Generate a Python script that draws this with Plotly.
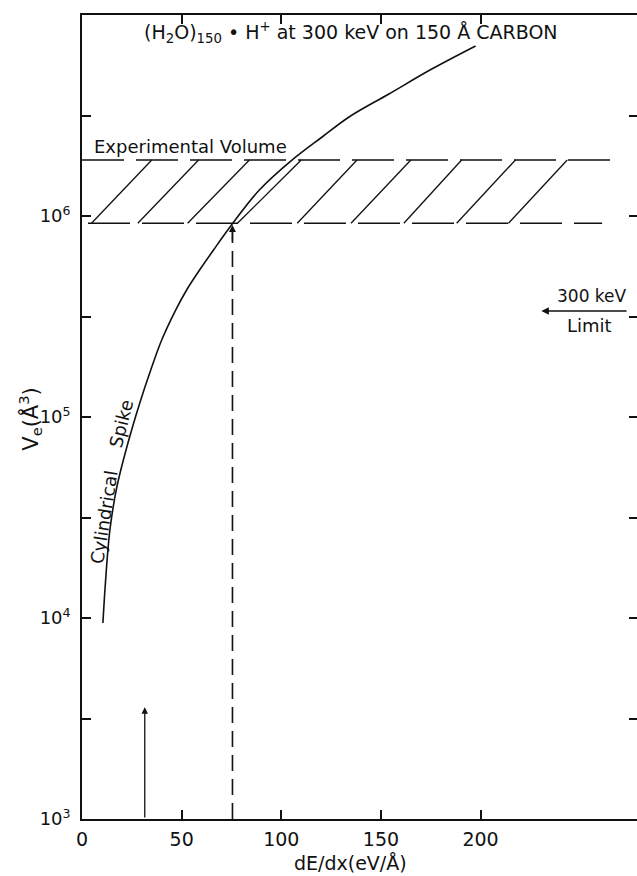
import plotly.graph_objects as go
import math

# ---- data ----
curve_dEdx = [10.5, 11.75, 14, 17.5, 22.5, 29, 34.5, 40, 47, 52.5, 59, 66, 75, 89,
              105.5, 120.5, 134, 154, 175.5, 197.5]
curve_Ve = [9.44e3, 1.493e4, 2.742e4, 4.487e4, 7.096e4, 1.175e5, 1.714e5, 2.415e5, 3.404e5,
            4.285e5, 5.383e5, 6.776e5, 9.016e5, 1.346e6, 1.901e6, 2.472e6, 3.11e6,
            4.046e6, 5.383e6, 7.015e6]

band_low = 9.2e5          # lower edge of experimental volume
band_high = 1.9e6         # upper edge of experimental volume
band_top_x = [0, 265]
band_bot_x = [3, 261]
hatch_bottom_x = [4.75, 28, 53, 78, 108, 135, 161.5, 188, 214]
hatch_top_x = [35, 58.5, 84, 110, 138, 165, 190.5, 217.5, 243.5]

exp_dEdx = 75.5           # dashed arrow to the intersection
threshold_dEdx = 31.5     # small solid arrow
threshold_Ve = 3.6e3

x_tickvals = [0, 50, 100, 150, 200]
x_ticktext = ["0", "50", "100", "150", "200"]
y_tickvals = [1e3, 1e4, 1e5, 1e6, 1e7]
y_ticktext = ["10<sup>3</sup>", "10<sup>4</sup>", "10<sup>5</sup>", "10<sup>6</sup>", ""]
y_minor = [10 ** 3.5, 10 ** 4.5, 10 ** 5.5, 10 ** 6.5]

FONT = "DejaVu Sans"
BLACK = "#111111"

fig = go.Figure()

# cylindrical spike curve
fig.add_trace(go.Scatter(x=curve_dEdx, y=curve_Ve, mode="lines",
                         line=dict(color=BLACK, width=1.6, shape="spline", smoothing=1.0),
                         hoverinfo="skip"))

# experimental volume band edges (dashed)
fig.add_trace(go.Scatter(x=band_top_x, y=[band_high, band_high], mode="lines",
                         line=dict(color=BLACK, width=1.6, dash="42px,12px")))
fig.add_trace(go.Scatter(x=band_bot_x, y=[band_low, band_low], mode="lines",
                         line=dict(color=BLACK, width=1.6, dash="42px,12px")))

# hatch lines
hx, hy = [], []
for b, t in zip(hatch_bottom_x, hatch_top_x):
    hx += [b, t, None]
    hy += [band_low, band_high, None]
fig.add_trace(go.Scatter(x=hx, y=hy, mode="lines", line=dict(color=BLACK, width=1.3)))

# dashed vertical line to intersection
fig.add_trace(go.Scatter(x=[exp_dEdx, exp_dEdx], y=[1e3, band_low * 0.93], mode="lines",
                         line=dict(color=BLACK, width=1.6, dash="16px,8px")))

C = dict(xanchor="center", yanchor="middle", showarrow=False)
annotations = [
    # arrowhead on dashed line
    dict(x=exp_dEdx, y=math.log10(band_low * 0.98), ax=exp_dEdx, ay=math.log10(band_low * 0.8),
         xref="x", yref="y", axref="x", ayref="y", text="", showarrow=True,
         arrowhead=2, arrowsize=1.0, arrowwidth=1.4, arrowcolor=BLACK),
    # small solid arrow at threshold
    dict(x=threshold_dEdx, y=math.log10(threshold_Ve), ax=threshold_dEdx, ay=3.0,
         xref="x", yref="y", axref="x", ayref="y", text="", showarrow=True,
         arrowhead=2, arrowsize=1.0, arrowwidth=1.3, arrowcolor=BLACK),
    # 300 keV limit arrow
    dict(x=230.5, y=5.527, ax=274, ay=5.527, xref="x", yref="y", axref="x", ayref="y",
         text="", showarrow=True, arrowhead=2, arrowsize=1.0, arrowwidth=1.5, arrowcolor=BLACK),
    dict(x=256, y=5.602, xref="x", yref="y", text="300 keV",
         font=dict(size=17, family=FONT, color=BLACK), **C),
    dict(x=254.5, y=5.455, xref="x", yref="y", text="Limit",
         font=dict(size=18, family=FONT, color=BLACK), **C),
    # title inside plot
    dict(x=135, y=6.912, xref="x", yref="y",
         text="(H<sub>2</sub>O)<sub>150</sub> \u2022 H<sup>+</sup> at 300 keV on 150 \u00c5 CARBON",
         font=dict(size=19, family=FONT, color=BLACK), **C),
    dict(x=54.5, y=6.348, xref="x", yref="y", text="Experimental Volume",
         font=dict(size=18, family=FONT, color=BLACK), **C),
    dict(x=11.0, y=4.50, xref="x", yref="y", text="Cylindrical",
         textangle=-81, font=dict(size=18, family=FONT, color=BLACK), **C),
    dict(x=19.5, y=4.97, xref="x", yref="y", text="Spike",
         textangle=-76, font=dict(size=18, family=FONT, color=BLACK), **C),
    # axis titles
    dict(x=-0.094, y=4.99, xref="paper", yref="y", text="V<sub>e</sub>(\u00c5<sup>3</sup>)",
         textangle=-90, font=dict(size=21, family=FONT, color=BLACK), **C),
    dict(x=134.5, y=-0.055, xref="x", yref="paper", text="dE/dx(eV/\u00c5)",
         font=dict(size=19, family=FONT, color=BLACK), **C),
]

# plot area runs a few pixels past the right window edge, as in the reference
fig.update_layout(
    width=640, height=876,
    margin=dict(l=82, r=0, t=15, b=57),
    paper_bgcolor="white", plot_bgcolor="white",
    showlegend=False,
    annotations=annotations,
    font=dict(family=FONT, color=BLACK, size=18),
)

fig.update_xaxes(range=[0, 279], tickmode="array", tickvals=x_tickvals, ticktext=x_ticktext,
                 ticks="inside", ticklen=9, tickwidth=1.5, tickcolor=BLACK,
                 showline=True, linecolor=BLACK, linewidth=1.6, mirror="ticks",
                 showgrid=False, zeroline=False, ticklabelstandoff=2,
                 tickfont=dict(size=19, family=FONT, color=BLACK))
fig.update_yaxes(type="log", range=[3, 7], tickmode="array", tickvals=y_tickvals, ticktext=y_ticktext,
                 ticks="inside", ticklen=9, tickwidth=1.5, tickcolor=BLACK,
                 showline=True, linecolor=BLACK, linewidth=1.6, mirror="ticks",
                 showgrid=False, zeroline=False, ticklabelstandoff=6,
                 minor=dict(tickvals=y_minor, ticks="inside", ticklen=9, tickwidth=1.5, tickcolor=BLACK),
                 tickfont=dict(size=18, family=FONT, color=BLACK))

# remove the page's default body margin so the figure fills the window exactly
fig.write_html("out.html",
               config={"displayModeBar": False},
               post_script="document.body.style.margin='0px';"
                           "document.body.style.overflow='hidden';"
                           "document.documentElement.style.overflow='hidden';")
